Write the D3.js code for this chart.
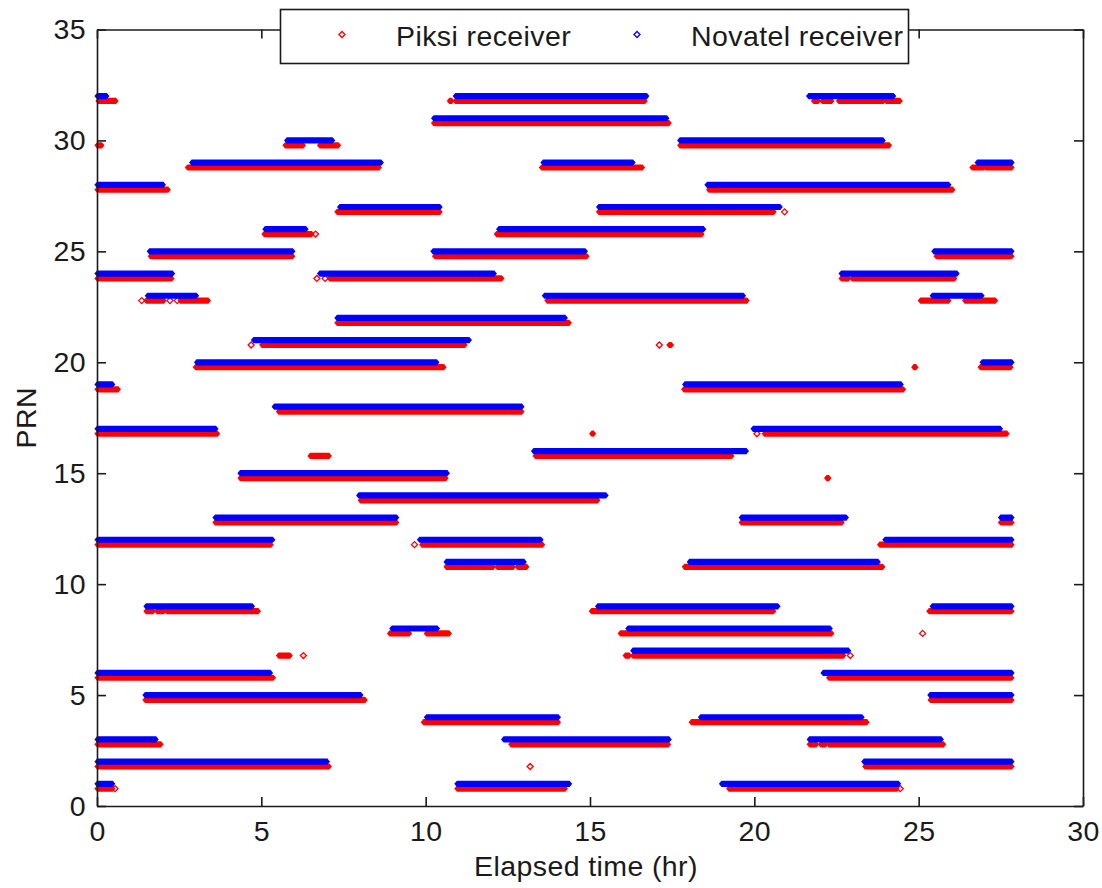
<!DOCTYPE html>
<html>
<head>
<meta charset="utf-8">
<script src="https://cdn.jsdelivr.net/npm/d3@7/dist/d3.min.js"></script>
<style>
  html, body { margin: 0; padding: 0; background: #fff; }
  svg { display: block; }
  text { font-family: "Liberation Sans", Arial, sans-serif; fill: #1a1a1a; }
</style>
</head>
<body>
<svg id="chart" width="1102" height="888"></svg>
<script>
// Tracking intervals per satellite: [PRN, start hr, end hr]
const piksiTracks = [
  [32, 0.03, 0.58], [32, 10.72, 10.8], [32, 10.9, 16.68], [32, 21.8, 21.95], [32, 22.06, 22.36], [32, 22.56, 23.93], [32, 24.0, 24.44],
  [31, 10.24, 17.41],
  [30, 0, 0.15], [30, 5.72, 6.28], [30, 6.77, 7.35], [30, 17.73, 24.11],
  [29, 2.75, 8.59], [29, 13.52, 16.6], [29, 26.62, 26.98], [29, 27.03, 27.84],
  [28, 0, 2.17], [28, 18.61, 26.04],
  [27, 7.3, 10.44], [27, 15.26, 20.6],
  [26, 5.08, 6.54], [26, 12.15, 18.41],
  [25, 1.62, 5.96], [25, 10.27, 14.91], [25, 25.53, 27.84],
  [24, 0, 2.28], [24, 7.07, 12.32], [24, 22.64, 22.87], [24, 22.97, 26.1],
  [23, 1.49, 2.04], [23, 2.53, 3.39], [23, 13.69, 19.78], [23, 25.05, 25.92], [23, 26.4, 27.34],
  [22, 7.3, 14.37],
  [21, 5.01, 11.2], [21, 17.4, 17.48],
  [20, 2.99, 10.56], [20, 24.85, 24.92], [20, 26.87, 27.81],
  [19, 0, 0.65], [19, 17.85, 24.54],
  [18, 5.52, 12.93],
  [17, 0, 3.67], [17, 15.05, 15.11], [17, 20.3, 27.69],
  [16, 6.48, 7.07], [16, 13.33, 19.32],
  [15, 4.35, 10.62], [15, 22.2, 22.27],
  [14, 8.01, 15.24],
  [13, 3.59, 9.12], [13, 19.6, 22.67], [13, 27.49, 27.84],
  [12, 0, 5.3], [12, 9.88, 13.56], [12, 23.81, 27.84],
  [11, 10.62, 12.06], [11, 12.17, 12.67], [11, 12.79, 13.08], [11, 17.87, 23.91],
  [9, 1.49, 1.71], [9, 1.82, 2.04], [9, 2.12, 4.91], [9, 15.04, 20.59], [9, 25.31, 27.84],
  [8, 8.9, 9.51], [8, 10.02, 10.72], [8, 15.92, 22.36],
  [7, 5.52, 5.88], [7, 16.07, 16.2], [7, 16.3, 22.72],
  [6, 0, 5.37], [6, 22.26, 27.84],
  [5, 1.46, 8.16], [5, 25.35, 27.84],
  [4, 9.93, 14.04], [4, 18.08, 23.43],
  [3, 0, 1.95], [3, 12.59, 17.39], [3, 21.67, 21.89], [3, 22.01, 22.18], [3, 22.26, 25.76],
  [2, 0, 7.07], [2, 23.36, 27.84],
  [1, 0, 0.48], [1, 10.95, 14.25], [1, 19.22, 24.34]
];

// Isolated Piksi fixes: [PRN, hr]
const piksiPoints = [
  [27, 20.92], [26, 6.65], [24, 6.69], [24, 6.94], [23, 1.36], [23, 2.22], [23, 2.44],
  [21, 4.69], [21, 17.11], [17, 20.08], [12, 9.66], [8, 25.12], [7, 6.28], [7, 22.92],
  [2, 13.18], [1, 0.55], [1, 24.44]
];

const novatelTracks = [
  [32, 0, 0.3], [32, 10.9, 16.73], [32, 21.65, 24.24],
  [31, 10.24, 17.34],
  [30, 5.77, 7.17], [30, 17.73, 23.92],
  [29, 2.88, 8.65], [29, 13.57, 16.31], [29, 26.78, 27.84],
  [28, 0, 2.02], [28, 18.56, 25.92],
  [27, 7.38, 10.44], [27, 15.26, 20.79],
  [26, 5.11, 6.36], [26, 12.22, 18.46],
  [25, 1.59, 5.96], [25, 10.22, 14.86], [25, 25.46, 27.84],
  [24, 0, 2.3], [24, 6.77, 12.09], [24, 22.64, 26.17],
  [23, 1.53, 3.03], [23, 13.61, 19.67], [23, 25.41, 26.93],
  [22, 7.3, 14.25],
  [21, 4.76, 11.33],
  [20, 3.03, 10.34], [20, 26.93, 27.84],
  [19, 0, 0.48], [19, 17.88, 24.47],
  [18, 5.39, 12.93],
  [17, 0, 3.62], [17, 19.96, 27.49],
  [16, 13.28, 19.76],
  [15, 4.35, 10.66],
  [14, 7.96, 15.49],
  [13, 3.59, 9.12], [13, 19.6, 22.8], [13, 27.49, 27.84],
  [12, 0, 5.35], [12, 9.81, 13.51], [12, 23.97, 27.84],
  [11, 10.62, 13.0], [11, 18.02, 23.77],
  [9, 1.49, 4.73], [9, 15.23, 20.72], [9, 25.41, 27.84],
  [8, 8.97, 10.36], [8, 16.15, 22.31],
  [7, 16.3, 22.87],
  [6, 0, 5.28], [6, 22.09, 27.84],
  [5, 1.46, 8.03], [5, 25.34, 27.84],
  [4, 10.02, 14.04], [4, 18.36, 23.28],
  [3, 0, 1.8], [3, 12.37, 17.41], [3, 21.67, 25.69],
  [2, 0, 7.01], [2, 23.33, 27.84],
  [1, 0, 0.48], [1, 10.95, 14.38], [1, 19.0, 24.39]
];

const seriesNames = ["Piksi receiver", "Novatel receiver"];
const seriesColors = ["#ff0000", "#0000ff"];
const piksiOffset = -0.22;   // Piksi rows drawn just under the PRN line
const xTicks = [0, 5, 10, 15, 20, 25, 30];
const yTicks = [0, 5, 10, 15, 20, 25, 30, 35];

const svg = d3.select("#chart");
const x = d3.scaleLinear().domain([0, 30]).range([97, 1083]);
const y = d3.scaleLinear().domain([0, 35]).range([806, 29.5]);

const halfH = 3.1, tip = 2.6;
function bandPath(x0, x1, yc) {
  return `M${x0 - tip},${yc} L${x0},${yc - halfH} L${x1},${yc - halfH} L${x1 + tip},${yc} L${x1},${yc + halfH} L${x0},${yc + halfH} Z`;
}
function diamond(cx, cy, r) {
  return `M${cx - r},${cy} L${cx},${cy - r} L${cx + r},${cy} L${cx},${cy + r} Z`;
}

const plot = svg.append("g");

// Piksi (red), drawn first
plot.selectAll("path.piksi").data(piksiTracks).join("path")
  .attr("class", "piksi")
  .attr("d", d => bandPath(x(d[1]), x(d[2]), y(d[0] + piksiOffset)))
  .attr("fill", seriesColors[0]);
plot.selectAll("path.piksiPt").data(piksiPoints).join("path")
  .attr("class", "piksiPt")
  .attr("d", d => diamond(x(d[1]), y(d[0] + piksiOffset), 3))
  .attr("fill", "none").attr("stroke", seriesColors[0]).attr("stroke-width", 1.3);

// Novatel (blue) on top
plot.selectAll("path.novatel").data(novatelTracks).join("path")
  .attr("class", "novatel")
  .attr("d", d => bandPath(x(d[1]), x(d[2]), y(d[0])))
  .attr("fill", seriesColors[1]);

// Axes box with inward ticks on all four sides
const axisColor = "#1a1a1a";
const fontSize = "28.5px";
const letterSpacing = "0.4px";

const gx = svg.append("g").attr("transform", `translate(0,${y(0)})`)
  .call(d3.axisBottom(x).tickValues(xTicks).tickFormat(d3.format("d")).tickSizeInner(-9).tickSizeOuter(0).tickPadding(15));
const gy = svg.append("g").attr("transform", `translate(${x(0)},0)`)
  .call(d3.axisLeft(y).tickValues(yTicks).tickFormat(d3.format("d")).tickSizeInner(-9).tickSizeOuter(0).tickPadding(11));
const gxt = svg.append("g").attr("transform", `translate(0,${y(35)})`)
  .call(d3.axisTop(x).tickValues(xTicks).tickFormat("").tickSizeInner(-9).tickSizeOuter(0));
const gyr = svg.append("g").attr("transform", `translate(${x(30)},0)`)
  .call(d3.axisRight(y).tickValues(yTicks).tickFormat("").tickSizeInner(-9).tickSizeOuter(0));

[gx, gy, gxt, gyr].forEach(g => {
  g.select(".domain").attr("stroke", axisColor).attr("stroke-width", 1.6);
  g.selectAll(".tick line").attr("stroke", axisColor).attr("stroke-width", 1.6);
  g.selectAll(".tick text").attr("font-size", fontSize).attr("letter-spacing", letterSpacing)
    .attr("font-family", "Liberation Sans, Arial, sans-serif").attr("fill", axisColor);
});

// Axis titles
svg.append("text")
  .attr("x", (x(0) + x(30)) / 2 - 4).attr("y", 876)
  .attr("text-anchor", "middle").attr("font-size", fontSize).attr("letter-spacing", letterSpacing)
  .text("Elapsed time (hr)");
svg.append("text")
  .attr("transform", `translate(36,${(y(0) + y(35)) / 2}) rotate(-90)`)
  .attr("text-anchor", "middle").attr("font-size", fontSize).attr("letter-spacing", letterSpacing)
  .text("PRN");

// Legend
const legend = svg.append("g");
legend.append("rect")
  .attr("x", 280.5).attr("y", 9.5).attr("width", 628).attr("height", 54)
  .attr("fill", "#fff").attr("stroke", axisColor).attr("stroke-width", 1.6);
const legendX = [342, 637];
seriesNames.forEach((name, i) => {
  legend.append("path")
    .attr("d", diamond(legendX[i], 34.5, 3))
    .attr("fill", "none").attr("stroke", seriesColors[i]).attr("stroke-width", 1.3);
  legend.append("text")
    .attr("x", legendX[i] + 54).attr("y", 46)
    .attr("font-size", fontSize).attr("letter-spacing", letterSpacing)
    .text(name);
});
</script>
</body>
</html>
